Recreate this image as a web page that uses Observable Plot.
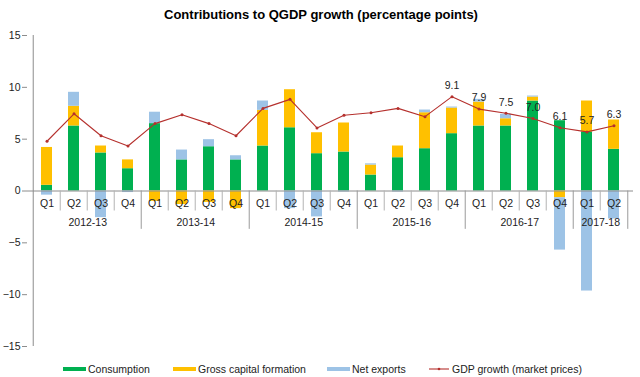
<!DOCTYPE html>
<html>
<head>
<meta charset="utf-8">
<script src="https://cdn.jsdelivr.net/npm/d3@7"></script>
<script src="https://cdn.jsdelivr.net/npm/@observablehq/plot@0.6"></script>
<style>
  html, body { margin: 0; padding: 0; background: #fff; }
  body { position: relative; width: 640px; height: 377px; overflow: hidden; font-family: "Liberation Sans", Arial, sans-serif; }
  #title { position: absolute; left: 0; top: 0; width: 642px; height: 30px; line-height: 30px; text-align: center; font-weight: bold; font-size: 13px; color: #000; }
  #chart { position: absolute; left: 0; top: 26px; }
  #chart svg { overflow: visible; }
  #legend { position: absolute; left: 0; top: 358px; width: 640px; height: 22px; font-size: 10.5px; color: #222; }
  .item { position: absolute; top: 0; height: 22px; display: flex; align-items: center; white-space: nowrap; }
  .sw { display: inline-block; width: 23px; height: 4px; margin-right: 2px; }
</style>
</head>
<body>
<div id="title">Contributions to QGDP growth (percentage points)</div>
<div id="chart"></div>
<div id="legend"></div>
<script>
// ---- data ----
const fiscalYears = ["2012-13", "2013-14", "2014-15", "2015-16", "2016-17", "2017-18"];
const quartersPerYear = [4, 4, 4, 4, 4, 2];
const quarterNames = ["Q1", "Q2", "Q3", "Q4"];
const seriesNames = ["Consumption", "Gross capital formation", "Net exports"];
const seriesColors = ["#00b050", "#ffc000", "#9dc3e6"];
const lineName = "GDP growth (market prices)";
const lineColor = "#b5302d";

const consumption = [0.55, 6.27, 3.67, 2.15, 6.5, 3.0, 4.27, 3.0, 4.34, 6.1, 3.6, 3.76, 1.54, 3.21, 4.08, 5.53, 6.27, 6.27, 8.68, 6.78, 5.69, 4.02];
const capitalFormation = [3.65, 1.9, 0.67, 0.85, -1.0, -1.3, -1.1, -1.7, 3.44, 3.67, 2.02, 2.8, 0.96, 1.13, 3.47, 2.47, 2.31, 0.7, 0.38, -0.65, 2.99, 2.83];
const netExports = [-0.4, 1.35, -2.57, -0.15, 1.1, 0.95, 0.68, 0.4, 0.9, -1.7, -2.5, -0.1, 0.12, -0.1, 0.26, 0.1, 0.26, 0.43, 0.1, -5.05, -9.65, -2.7];
const gdpGrowth = [4.8, 7.45, 5.33, 4.34, 6.5, 7.35, 6.5, 5.33, 7.97, 8.84, 6.08, 7.3, 7.55, 7.97, 7.17, 9.1, 7.9, 7.5, 7.0, 6.1, 5.7, 6.3];
const gdpLabels = [null, null, null, null, null, null, null, null, null, null, null, null, null, null, null, "9.1", "7.9", "7.5", "7.0", "6.1", "5.7", "6.3"];
const yTicks = [-15, -10, -5, 0, 5, 10, 15];

// ---- derived tables ----
const periods = [];
fiscalYears.forEach((fy, yi) => {
  for (let q = 0; q < quartersPerYear[yi]; q++) {
    periods.push({ key: fy + " " + quarterNames[q], year: fy, quarter: quarterNames[q], q });
  }
});
const keys = periods.map(d => d.key);
const seriesValues = [consumption, capitalFormation, netExports];
const stacked = [];
seriesNames.forEach((s, si) => periods.forEach((p, i) => stacked.push({ key: p.key, series: s, value: seriesValues[si][i] })));
const gdpData = periods.map((p, i) => ({ key: p.key, value: gdpGrowth[i], label: gdpLabels[i] }));
const yearLabelData = fiscalYears.map((fy, yi) => {
  const first = periods.findIndex(p => p.year === fy);
  return { key: periods[first + quartersPerYear[yi] / 2 - 1].key, year: fy };
});
const quarterSeps = periods.filter((p, i) => i > 0 && p.q > 0);
const yearSeps = periods.filter((p, i) => i > 0 && p.q === 0);

// ---- layout ----
const W = 640, H = 329, mL = 27, mR = 7, mT = 9, mB = 9;
const step = (W - mL - mR) / keys.length;
const font = "Liberation Sans, Arial, sans-serif";

const chart = Plot.plot({
  width: W, height: H,
  marginLeft: mL, marginRight: mR, marginTop: mT, marginBottom: mB,
  style: { fontFamily: font, fontSize: "10.5px", background: "#fff", overflow: "visible" },
  x: { type: "band", domain: keys, paddingInner: 0.6, paddingOuter: 0.3, axis: null },
  y: { domain: [-15, 15] },
  color: { domain: seriesNames, range: seriesColors },
  marks: [
    Plot.barY(stacked, Plot.stackY({ x: "key", y: "value", fill: "series", order: seriesNames })),
    Plot.ruleY([0], { stroke: "#8c8c8c", strokeWidth: 1 }),
    Plot.ruleX([keys[0]], { x: d => d, y1: -15, y2: 15, dx: -step / 2, stroke: "#8c8c8c" }),
    Plot.axisY({ ticks: yTicks, tickSize: 5, tickPadding: 2, stroke: "#8c8c8c", fill: "#222", fontSize: 10.5, strokeOpacity: 1, label: null }),
    Plot.ruleX(quarterSeps, { x: "key", y1: 0, y2: -1.93, dx: -step / 2, stroke: "#b3b3b3" }),
    Plot.ruleX(yearSeps, { x: "key", y1: 0, y2: -3.7, dx: -step / 2, stroke: "#9a9a9a" }),
    Plot.ruleX([keys[keys.length - 1]], { x: d => d, y1: 0, y2: -3.7, dx: step / 2, stroke: "#9a9a9a" }),
    Plot.text(periods, { x: "key", y: 0, text: "quarter", dy: 12.5, fill: "#222", fontSize: 10.5 }),
    Plot.text(yearLabelData, { x: "key", y: 0, text: "year", dx: step / 2, dy: 32, fill: "#222", fontSize: 10.5 }),
    Plot.line(gdpData, { x: "key", y: "value", stroke: lineColor, strokeWidth: 1.1 }),
    Plot.dot(gdpData, { x: "key", y: "value", r: 1.5, fill: lineColor, stroke: "none" }),
    Plot.text(gdpData.filter(d => d.label), { x: "key", y: "value", text: "label", dy: -11, fill: "#222", fontSize: 10.5 })
  ]
});
document.getElementById("chart").appendChild(chart);

// ---- legend ----
const legend = document.getElementById("legend");
const lefts = [63, 173, 327, 429];
seriesNames.forEach((s, i) => {
  const el = document.createElement("div");
  el.className = "item";
  el.style.left = lefts[i] + "px";
  el.innerHTML = `<span class="sw" style="background:${seriesColors[i]}"></span><span>${s}</span>`;
  legend.appendChild(el);
});
const li = document.createElement("div");
li.className = "item";
li.style.left = lefts[3] + "px";
li.innerHTML = `<svg width="21" height="8" style="margin-right:2px"><line x1="0" x2="20" y1="4" y2="4" stroke="${lineColor}" stroke-width="1.1"/><circle cx="10" cy="4" r="1.3" fill="${lineColor}"/></svg><span>${lineName}</span>`;
legend.appendChild(li);
</script>
</body>
</html>
